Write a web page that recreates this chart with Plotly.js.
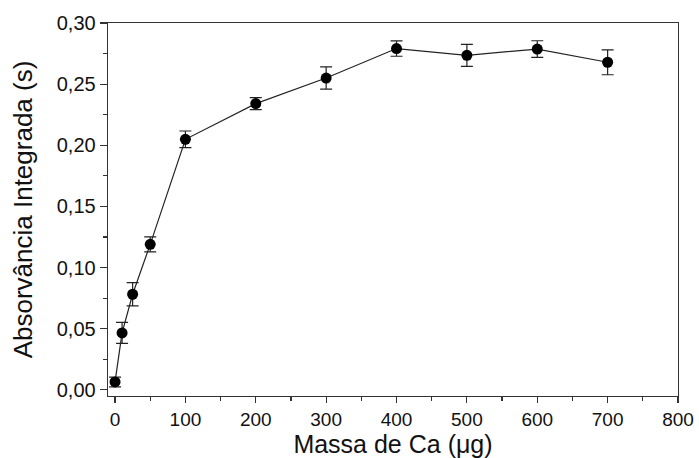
<!DOCTYPE html>
<html>
<head>
<meta charset="utf-8">
<script src="https://cdn.plot.ly/plotly-3.0.1.min.js"></script>
<style>html,body{margin:0;padding:0;background:#fff;}#chart{width:699px;height:458px;}</style>
</head>
<body>
<div id="chart"></div>
<script>
var massaCa = [0, 10, 25, 50, 100, 200, 300, 400, 500, 600, 700];
var absorvancia = [0.0065, 0.0466, 0.0782, 0.119, 0.2049, 0.2341, 0.2550, 0.2791, 0.2736, 0.2787, 0.2679];
var erro = [0.0040, 0.0086, 0.0095, 0.0061, 0.0068, 0.0049, 0.0091, 0.0063, 0.0090, 0.0068, 0.0102];
var xTicks = [0, 100, 200, 300, 400, 500, 600, 700, 800];
var yTicks = [0, 0.05, 0.10, 0.15, 0.20, 0.25, 0.30];
var yTickLabels = ["0,00", "0,05", "0,10", "0,15", "0,20", "0,25", "0,30"];

var trace = {
  x: massaCa,
  y: absorvancia,
  type: 'scatter',
  mode: 'lines+markers',
  line: {color: '#222', width: 1.2},
  marker: {color: '#000', size: 11},
  error_y: {type: 'data', array: erro, visible: true, color: '#222', thickness: 1.2, width: 6}
};

var fontFam = 'Liberation Sans, Arial, sans-serif';
var layout = {
  width: 699, height: 458,
  margin: {l: 108, r: 21, t: 23, b: 62},
  paper_bgcolor: '#fff', plot_bgcolor: '#fff',
  showlegend: false,
  font: {family: fontFam, color: '#111'},
  xaxis: {
    range: [-10, 800],
    tickvals: xTicks,
    ticktext: xTicks.map(String),
    ticks: 'outside', ticklen: 6, tickwidth: 1.2, tickcolor: '#333',
    minor: {dtick: 50, tick0: 0, ticks: 'outside', ticklen: 4, tickwidth: 1.2, tickcolor: '#333'},
    showline: true, linecolor: '#333', linewidth: 1.3, mirror: true,
    showgrid: false, zeroline: false,
    tickfont: {size: 19, family: fontFam, color: '#111'},
    title: {text: 'Massa de Ca (μg)', font: {size: 25, family: fontFam, color: '#111'}, standoff: 10},
    automargin: false
  },
  yaxis: {
    range: [-0.005, 0.30],
    tickvals: yTicks,
    ticktext: yTickLabels,
    ticks: 'outside', ticklen: 7, tickwidth: 1.2, tickcolor: '#333',
    minor: {dtick: 0.025, tick0: 0, ticks: 'outside', ticklen: 4, tickwidth: 1.2, tickcolor: '#333'},
    showline: true, linecolor: '#333', linewidth: 1.3, mirror: true,
    showgrid: false, zeroline: false,
    tickfont: {size: 20, family: fontFam, color: '#111'},
    title: {text: 'Absorvância Integrada (s)', font: {size: 26, family: fontFam, color: '#111'}, standoff: 16},
    automargin: false
  }
};

Plotly.newPlot('chart', [trace], layout, {displayModeBar: false, staticPlot: true});
</script>
</body>
</html>
